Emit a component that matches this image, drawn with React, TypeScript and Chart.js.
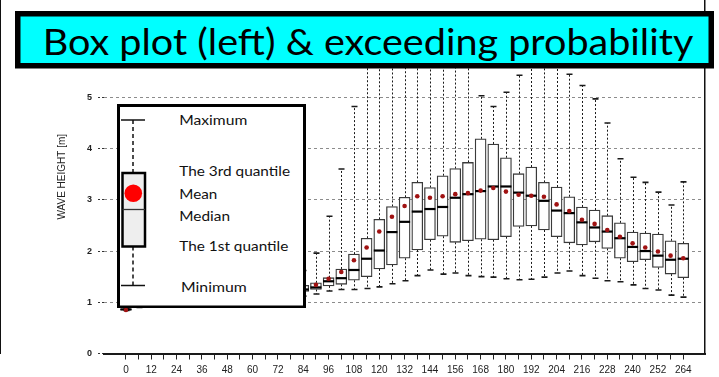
import React, { useEffect, useRef } from "react";
import { Chart, registerables } from "chart.js";

Chart.register(...registerables);

// Forecast lead time in hours
const HOURS = [
  0, 6, 12, 18, 24, 30, 36, 42, 48, 54, 60, 66, 72, 78, 84, 90, 96, 102, 108, 114, 120, 126, 132,
  138, 144, 150, 156, 162, 168, 174, 180, 186, 192, 198, 204, 210, 216, 222, 228, 234, 240, 246,
  252, 258, 264,
];

// Wave height statistics [m] per lead time
const MINIMUM = [
  0.84, 0.9, 0.95, 0.98, 1.0, 1.02, 1.03, 1.04, 1.05, 1.06, 1.07, 1.08, 1.09, 1.1, 1.12, 1.16, 1.22,
  1.25, 1.25, 1.27, 1.3, 1.36, 1.42, 1.52, 1.63, 1.55, 1.57, 1.52, 1.5, 1.49, 1.46, 1.44, 1.45, 1.49,
  1.57, 1.61, 1.52, 1.47, 1.42, 1.4, 1.34, 1.27, 1.24, 1.14, 1.1,
];
const QUANTILE_1 = [
  0.85, 0.93, 0.99, 1.02, 1.05, 1.07, 1.09, 1.1, 1.12, 1.13, 1.14, 1.15, 1.16, 1.18, 1.21, 1.25, 1.32,
  1.35, 1.43, 1.5, 1.65, 1.73, 1.86, 2.02, 2.22, 2.29, 2.17, 2.2, 2.23, 2.22, 2.28, 2.48, 2.49, 2.41,
  2.28, 2.16, 2.12, 2.18, 2.05, 1.86, 1.79, 1.83, 1.68, 1.55, 1.48,
];
const MEDIAN = [
  0.86, 0.95, 1.01, 1.05, 1.08, 1.1, 1.12, 1.14, 1.16, 1.17, 1.18, 1.19, 1.21, 1.23, 1.25, 1.29, 1.41,
  1.47, 1.63, 1.85, 2.01, 2.37, 2.57, 2.77, 2.82, 2.86, 3.04, 3.11, 3.17, 3.26, 3.26, 3.14, 3.08, 2.98,
  2.79, 2.74, 2.56, 2.46, 2.38, 2.25, 2.08, 2.0, 1.91, 1.83, 1.85,
];
const MEAN = [
  0.85, 0.96, 1.02, 1.06, 1.09, 1.11, 1.13, 1.15, 1.17, 1.18, 1.2, 1.21, 1.23, 1.25, 1.28, 1.34, 1.46,
  1.59, 1.82, 2.07, 2.38, 2.67, 2.88, 3.07, 3.04, 3.07, 3.11, 3.13, 3.18, 3.23, 3.16, 3.1, 3.08, 3.06,
  2.91, 2.78, 2.61, 2.53, 2.41, 2.28, 2.15, 2.07, 1.99, 1.91, 1.86,
];
const QUANTILE_3 = [
  0.87, 0.98, 1.05, 1.09, 1.12, 1.15, 1.17, 1.19, 1.21, 1.23, 1.25, 1.27, 1.29, 1.31, 1.33, 1.38, 1.48,
  1.65, 1.94, 2.25, 2.62, 2.87, 3.05, 3.34, 3.24, 3.47, 3.61, 3.73, 4.19, 4.09, 3.82, 3.51, 3.64, 3.34,
  3.25, 3.06, 2.86, 2.8, 2.69, 2.55, 2.37, 2.35, 2.33, 2.2, 2.15,
];
const MAXIMUM = [
  0.88, 1.02, 1.1, 1.16, 1.22, 1.28, 1.34, 1.4, 1.45, 1.5, 1.53, 1.56, 1.58, 1.6, 1.62, 1.96, 2.68,
  3.6, 4.82, 5.9, 6.2, 6.3, 6.0, 6.4, 6.5, 6.1, 6.6, 6.3, 5.03, 4.82, 5.1, 5.43, 6.2, 5.9, 5.7, 5.45,
  5.23, 4.97, 4.5, 3.8, 3.44, 3.34, 3.15, 2.9, 3.35,
];

const Y_TICKS = [0, 1, 2, 3, 4, 5];
const TITLE = "Box plot (left) & exceeding probability";
const Y_TITLE = "WAVE HEIGHT [m]";
const KEY_LABELS = ["Maximum", "The 3rd quantile", "Mean", "Median", "The 1st quantile", "Minimum"];

const W = 719;
const H = 377;

// Whiskers (behind the boxes) and median bars (on top of the boxes)
const boxWhiskerPlugin = {
  id: "boxWhiskers",
  beforeDatasetsDraw(chart: any) {
    const { ctx, chartArea, scales } = chart;
    const x = scales.x;
    const y = scales.y;
    ctx.save();
    ctx.beginPath();
    ctx.rect(chartArea.left, chartArea.top, chartArea.right - chartArea.left, chartArea.bottom - chartArea.top);
    ctx.clip();
    ctx.strokeStyle = "#1a1a1a";
    HOURS.forEach((h, i) => {
      const px = Math.round(x.getPixelForValue(h)) + 0.5;
      const yLo = y.getPixelForValue(MINIMUM[i]);
      const yQ1 = y.getPixelForValue(QUANTILE_1[i]);
      const yQ3 = y.getPixelForValue(QUANTILE_3[i]);
      const yHi = y.getPixelForValue(MAXIMUM[i]);
      ctx.setLineDash([2, 2]);
      ctx.lineWidth = 1;
      ctx.beginPath();
      ctx.moveTo(px, yQ3);
      ctx.lineTo(px, yHi);
      ctx.moveTo(px, yQ1);
      ctx.lineTo(px, yLo);
      ctx.stroke();
      ctx.setLineDash([]);
      ctx.lineWidth = 1.6;
      ctx.beginPath();
      ctx.moveTo(px - 3, yHi);
      ctx.lineTo(px + 3, yHi);
      ctx.moveTo(px - 3, yLo);
      ctx.lineTo(px + 3, yLo);
      ctx.stroke();
    });
    ctx.restore();
  },
  afterDatasetDraw(chart: any, args: any) {
    if (args.index !== 0) return;
    const { ctx, scales } = chart;
    const y = scales.y;
    const meta = chart.getDatasetMeta(0);
    ctx.save();
    ctx.strokeStyle = "#000";
    ctx.lineWidth = 2.2;
    meta.data.forEach((bar: any, i: number) => {
      const { x: bx, width } = bar.getProps(["x", "width"], true);
      const my = y.getPixelForValue(MEDIAN[i]);
      ctx.beginPath();
      ctx.moveTo(bx - width / 2, my);
      ctx.lineTo(bx + width / 2, my);
      ctx.stroke();
    });
    ctx.restore();
  },
};

function KeyBox() {
  // explanatory box-plot key, drawn over the early lead times
  const left = 117;
  const top = 103.5;
  const w = 189;
  const h = 204.5;
  const textX = [62.3, 62.3, 62.3, 62.3, 62.3, 64];
  const baselines = [21, 71.8, 94.8, 116.6, 146.6, 188.2];
  const widths = [68, 110.7, 38, 50.7, 109, 65.7];
  return (
    <svg
      width={w}
      height={h}
      style={{ position: "absolute", left, top, pointerEvents: "none" }}
    >
      <rect x={1.5} y={1.5} width={w - 3} height={h - 3} fill="#fff" stroke="#000" strokeWidth={3} />
      <line x1={16} y1={16} x2={16} y2={68.5} stroke="#111" strokeWidth={1.5} strokeDasharray="4 3" />
      <line x1={16} y1={142.5} x2={16} y2={181.5} stroke="#111" strokeWidth={1.5} strokeDasharray="4 3" />
      <line x1={4} y1={16} x2={28} y2={16} stroke="#111" strokeWidth={1.5} />
      <line x1={4} y1={181.5} x2={28} y2={181.5} stroke="#111" strokeWidth={1.5} />
      <rect x={5.5} y={69} width={22.5} height={73.5} fill="#eeeeee" stroke="#000" strokeWidth={2.5} />
      <line x1={5.5} y1={105.5} x2={28} y2={105.5} stroke="#333" strokeWidth={1.3} />
      <circle cx={16.3} cy={89.2} r={8.8} fill="#ff0000" />
      {KEY_LABELS.map((t, i) => (
        <text
          key={t}
          x={textX[i]}
          y={baselines[i]}
          fontFamily="Lato, 'Open Sans', sans-serif"
          fontSize={13.6}
          fill="#111"
          textLength={widths[i]}
          lengthAdjust="spacingAndGlyphs"
        >
          {t}
        </text>
      ))}
    </svg>
  );
}

function TitleBanner() {
  return (
    <svg
      width={W}
      height={80}
      style={{ position: "absolute", left: 0, top: 0, pointerEvents: "none" }}
    >
      <rect x={17.75} y={13.75} width={693.5} height={52} fill="#00ffff" stroke="#000" strokeWidth={5.5} />
      <text
        x={42.7}
        y={55}
        fontFamily="Lato, 'Open Sans', sans-serif"
        fontSize={37.3}
        fill="#000"
        textLength={650.6}
        lengthAdjust="spacingAndGlyphs"
      >
        {TITLE}
      </text>
    </svg>
  );
}

export default function App() {
  const canvasRef = useRef<HTMLCanvasElement | null>(null);

  useEffect(() => {
    const canvas = canvasRef.current;
    if (!canvas) return;
    const chart = new Chart(canvas, {
      type: "bar",
      data: {
        datasets: [
          {
            type: "bar",
            data: HOURS.map((h, i) => ({ x: h, y: [QUANTILE_1[i], QUANTILE_3[i]] })) as any,
            backgroundColor: "#ffffff",
            borderColor: "#3a3a3a",
            borderWidth: 1.3,
            borderSkipped: false,
            barThickness: 11,
            order: 1,
          },
          {
            type: "line",
            data: HOURS.map((h, i) => ({ x: h, y: MEAN[i] })) as any,
            showLine: false,
            pointRadius: 2.3,
            pointBackgroundColor: "#a01212",
            pointBorderColor: "#a01212",
            pointBorderWidth: 0,
            order: 0,
          },
        ],
      },
      options: {
        responsive: false,
        animation: false,
        devicePixelRatio: 1,
        events: [],
        layout: { autoPadding: false, padding: { left: 0, top: 0, right: 14, bottom: 0 } },
        plugins: {
          legend: { display: false },
          tooltip: { enabled: false },
          title: { display: false },
        },
        scales: {
          x: {
            type: "linear",
            offset: false,
            min: -10.4,
            max: 274.3,
            afterBuildTicks: (axis: any) => {
              axis.ticks = HOURS.map((v) => ({ value: v }));
            },
            afterFit: (axis: any) => {
              axis.height = 23.5;
              axis.paddingLeft = 0;
              axis.paddingRight = 0;
            },
            ticks: {
              autoSkip: false,
              maxRotation: 0,
              padding: 5,
              color: "#222",
              font: { family: "'Liberation Sans', Arial, sans-serif", size: 10 },
              callback: (v: any) => (Number(v) % 12 === 0 ? String(v) : ""),
            },
            grid: {
              offset: false,
              drawOnChartArea: false,
              drawTicks: true,
              tickLength: 6,
              tickColor: "#222",
              tickWidth: 1,
            },
            border: { display: true, color: "#1a1a1a", width: 2 },
          },
          y: {
            type: "linear",
            min: 0,
            max: 6.9,
            afterBuildTicks: (axis: any) => {
              axis.ticks = Y_TICKS.map((v) => ({ value: v }));
            },
            afterFit: (axis: any) => {
              axis.width = 104;
              axis.paddingTop = 0;
              axis.paddingBottom = 0;
            },
            ticks: {
              padding: 6,
              color: "#222",
              font: { family: "'Liberation Sans', Arial, sans-serif", size: 9, weight: "bold" },
            },
            grid: {
              color: "#8c8c8c",
              lineWidth: 1,
              drawTicks: true,
              tickLength: 6,
              tickColor: "#333",
              tickBorderDash: [2, 2],
            },
            border: { display: false, dash: [3, 3] },
            title: {
              display: true,
              text: Y_TITLE,
              color: "#222",
              font: { family: "'Liberation Sans', Arial, sans-serif", size: 10 },
              padding: { top: 56, bottom: 0 },
            },
          },
          // solid left frame line of the plot
          yFrame: {
            axis: "y",
            position: "left",
            display: true,
            ticks: { display: false },
            grid: { drawOnChartArea: false, drawTicks: false },
            border: { display: true, color: "#111", width: 2 },
            afterFit: (axis: any) => {
              axis.width = 0;
            },
          },
          // right frame line of the plot
          y2: {
            axis: "y",
            position: "right",
            display: true,
            ticks: { display: false },
            grid: { drawOnChartArea: false, drawTicks: false },
            border: { display: true, color: "#111", width: 1.5 },
            afterFit: (axis: any) => {
              axis.width = 0;
            },
          },
        },
      } as any,
      plugins: [boxWhiskerPlugin],
    });
    return () => chart.destroy();
  }, []);

  return (
    <div
      style={{
        position: "fixed",
        left: 0,
        top: 0,
        width: W,
        height: H,
        background: "#fff",
        overflow: "hidden",
      }}
    >
      <canvas ref={canvasRef} width={W} height={H} style={{ position: "absolute", left: 0, top: 0 }} />
      <KeyBox />
      <TitleBanner />
    </div>
  );
}
